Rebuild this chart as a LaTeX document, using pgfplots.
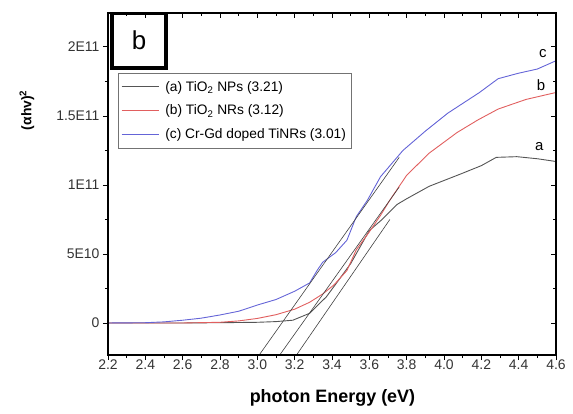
\documentclass[border=0pt]{standalone}
\usepackage{pgfplots}
\pgfplotsset{compat=1.18}
\usepackage{fontspec}
\setmainfont{Liberation Sans}

\definecolor{cA}{RGB}{85,85,85}
\definecolor{cB}{RGB}{225,95,95}
\definecolor{cC}{RGB}{100,100,215}

\begin{document}
\begin{tikzpicture}
\begin{axis}[
  at={(0,0)}, anchor=south west,
  width=448bp, height=342bp, scale only axis,
  xmin=2.2, xmax=4.6, ymin=-2.32e10, ymax=2.246e11,
  xtick={2.2,2.4,2.6,2.8,3.0,3.2,3.4,3.6,3.8,4.0,4.2,4.4,4.6},
  xticklabels={2.2,2.4,2.6,2.8,3.0,3.2,3.4,3.6,3.8,4.0,4.2,4.4,4.6},
  ytick={0,5e10,1e11,1.5e11,2e11},
  yticklabels={0,5E10,1E11,1.5E11,2E11},
  scaled y ticks=false,
  minor x tick num=1, minor y tick num=1,
  xtick pos=left, ytick pos=left, tick align=outside,
  major tick length=5bp, minor tick length=3bp,
  tick style={black, line width=0.9bp},
  axis line style={line width=1.2bp},
  ticklabel style={font=\fontsize{14}{16}\selectfont, text=black!80},
  xticklabel style={yshift=4bp},
  /pgf/number format/assume math mode=true,
  xlabel={\textbf{photon Energy (eV)}},
  xlabel style={font=\fontsize{18}{20}\selectfont, at={(axis description cs:0.501,-0.126)}, anchor=center},
  ylabel={\textbf{(αhv)\textsuperscript{2}}},
  ylabel style={font=\fontsize{14}{16}\selectfont, at={(axis description cs:-0.181,0.716)}, anchor=center},
  legend cell align=left,
  legend style={at={(0.022,0.825)}, anchor=north west, draw=black!55,
    font=\fontsize{13.8}{15}\selectfont, row sep=8.5bp, inner xsep=3bp, inner ysep=6bp,
    /tikz/every odd column/.append style={column sep=4bp}},
  legend image post style={xscale=2.2},
]
% (a) TiO2 NPs
\addplot[cA, line width=0.9bp] coordinates {
 (2.2,0) (2.6,0) (2.8,0.02e10) (3.0,0.05e10) (3.1,0.1e10) (3.19,0.2e10)
 (3.28,0.7e10) (3.37,1.9e10) (3.43,3.0e10) (3.50,4.3e10) (3.60,6.7e10)
 (3.66,7.4e10) (3.75,8.6e10) (3.80,9.0e10) (3.92,9.9e10) (4.09,10.8e10)
 (4.20,11.4e10) (4.28,12.0e10) (4.39,12.05e10) (4.5,11.9e10) (4.6,11.7e10)
};
\addlegendentry{(a) TiO\textsubscript{2} NPs (3.21)}
% (b) TiO2 NRs
\addplot[cB, line width=0.9bp] coordinates {
 (2.2,0) (2.6,0) (2.8,0.05e10) (2.9,0.15e10) (3.0,0.33e10) (3.1,0.6e10)
 (3.2,1.0e10) (3.28,1.5e10) (3.35,2.1e10) (3.41,2.75e10) (3.48,3.8e10)
 (3.53,5.3e10) (3.6,6.6e10) (3.66,7.8e10) (3.71,8.9e10) (3.8,10.7e10)
 (3.92,12.3e10) (4.07,13.8e10) (4.18,14.7e10) (4.29,15.5e10) (4.44,16.2e10)
 (4.6,16.7e10)
};
\addlegendentry{(b) TiO\textsubscript{2} NRs (3.12)}
% (c) Cr-Gd doped TiNRs
\addplot[cC, line width=0.9bp] coordinates {
 (2.2,0) (2.4,0.02e10) (2.5,0.08e10) (2.6,0.2e10) (2.7,0.35e10) (2.8,0.58e10)
 (2.9,0.85e10) (3.0,1.3e10) (3.1,1.7e10) (3.2,2.3e10) (3.28,2.9e10)
 (3.32,3.8e10) (3.35,4.4e10) (3.42,5.1e10) (3.48,6.0e10) (3.53,7.7e10)
 (3.59,8.9e10) (3.66,10.6e10) (3.78,12.5e10) (3.9,13.9e10) (4.02,15.2e10)
 (4.19,16.7e10) (4.29,17.7e10) (4.4,18.1e10) (4.5,18.4e10) (4.6,19.0e10)
};
\addlegendentry{(c) Cr-Gd doped TiNRs (3.01)}
% tangent lines
\addplot[black!75, line width=0.6bp, forget plot] coordinates {(3.01,-2.32e10) (3.76,12.0e10)};
\addplot[black!75, line width=0.6bp, forget plot] coordinates {(3.12,-2.32e10) (3.76,9.85e10)};
\addplot[black!75, line width=0.6bp, forget plot] coordinates {(3.21,-2.32e10) (3.71,7.5e10)};
% panel label
\draw[line width=4bp] (axis cs:2.219,2.243e11) rectangle (axis cs:2.513,1.851e11);
\node[font=\fontsize{26}{28}\selectfont] at (axis cs:2.366,2.047e11) {b};
% curve labels
\node[font=\fontsize{15}{17}\selectfont] at (axis cs:4.53,19.5e10) {c};
\node[font=\fontsize{15}{17}\selectfont] at (axis cs:4.52,17.2e10) {b};
\node[font=\fontsize{15}{17}\selectfont] at (axis cs:4.51,12.8e10) {a};
\end{axis}
\begin{axis}[
  at={(0,0)}, anchor=south west,
  width=448bp, height=342bp, scale only axis,
  xmin=2.2, xmax=4.6, ymin=-2.32e10, ymax=2.246e11,
  xtick={2.2,2.4,2.6,2.8,3.0,3.2,3.4,3.6,3.8,4.0,4.2,4.4,4.6},
  ytick={0,5e10,1e11,1.5e11,2e11},
  scaled y ticks=false,
  minor x tick num=1, minor y tick num=1,
  xtick pos=right, ytick pos=right, tick align=inside,
  major tick length=5bp, minor tick length=3bp,
  tick style={black, line width=0.9bp},
  axis line style={line width=1.2bp},
  xticklabels={}, yticklabels={},
]
\end{axis}
\pgfresetboundingbox
\path[use as bounding box] (-108bp,-59bp) rectangle (465bp,355bp);
\end{tikzpicture}
\end{document}
